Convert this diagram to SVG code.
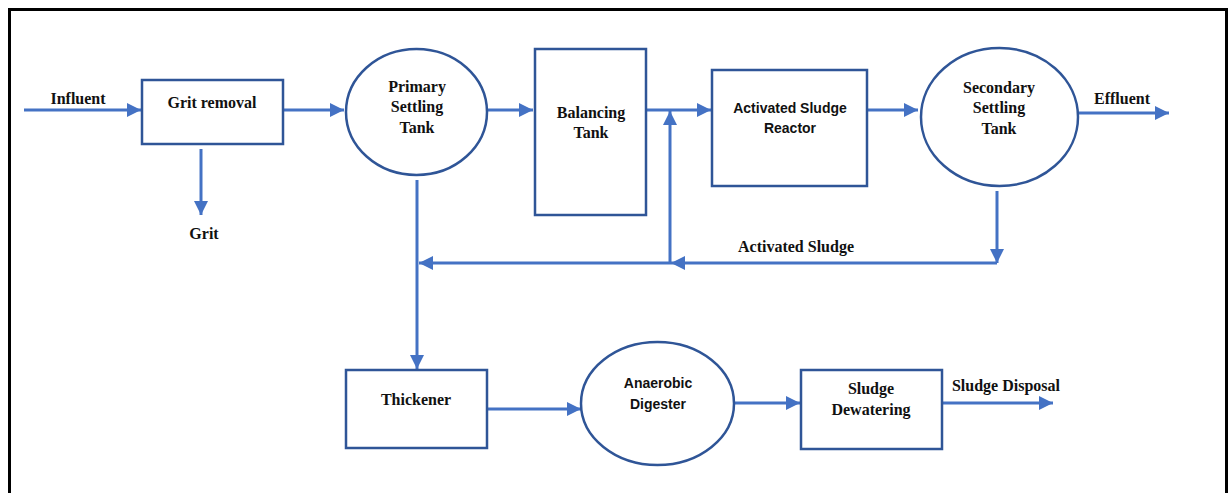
<svg xmlns="http://www.w3.org/2000/svg" width="1231" height="493" viewBox="0 0 1231 493">
<style>
.box{fill:#fff;stroke:#2F5597;stroke-width:2.5}
.ln{fill:none;stroke:#4472C4;stroke-width:3}
.t{font-family:"Liberation Serif","Times New Roman",serif;font-weight:bold;font-size:16px;fill:#111;text-anchor:middle}
.s{font-family:"Liberation Sans",Arial,sans-serif;font-weight:bold;font-size:14px;fill:#111;text-anchor:middle}
</style>
<defs>
<marker id="ah" markerUnits="userSpaceOnUse" markerWidth="14" markerHeight="14" viewBox="0 0 14 14" refX="14" refY="7" orient="auto">
<path d="M0,0 L14,7 L0,14 Z" fill="#4472C4"/>
</marker>
</defs>
<rect x="0" y="0" width="1231" height="493" fill="#fff"/>
<rect x="9.5" y="9.5" width="1217" height="495" fill="none" stroke="#000" stroke-width="3"/>

<g id="connectors">
<line class="ln" x1="24" y1="110" x2="141" y2="110" marker-end="url(#ah)"/>
<line class="ln" x1="283" y1="110" x2="344" y2="110" marker-end="url(#ah)"/>
<line class="ln" x1="201" y1="149" x2="201" y2="215" marker-end="url(#ah)"/>
<line class="ln" x1="487" y1="110" x2="533" y2="110" marker-end="url(#ah)"/>
<line class="ln" x1="646" y1="110" x2="711" y2="110" marker-end="url(#ah)"/>
<line class="ln" x1="867" y1="110" x2="918" y2="110" marker-end="url(#ah)"/>
<line class="ln" x1="1078" y1="113" x2="1169" y2="113" marker-end="url(#ah)"/>
<line class="ln" x1="997" y1="191" x2="997" y2="263" marker-end="url(#ah)"/>
<line class="ln" x1="997" y1="263" x2="671" y2="263" marker-end="url(#ah)"/>
<line class="ln" x1="671" y1="263" x2="419" y2="263" marker-end="url(#ah)"/>
<line class="ln" x1="670" y1="263" x2="670" y2="111" marker-end="url(#ah)"/>
<line class="ln" x1="417" y1="180" x2="417" y2="369" marker-end="url(#ah)"/>
<line class="ln" x1="487" y1="409" x2="581" y2="409" marker-end="url(#ah)"/>
<line class="ln" x1="734" y1="403" x2="800" y2="403" marker-end="url(#ah)"/>
<line class="ln" x1="942" y1="403" x2="1053" y2="403" marker-end="url(#ah)"/>
</g>

<g id="labels">
<text class="t" x="78" y="104">Influent</text>
<text class="t" x="204" y="239">Grit</text>
<text class="t" x="1122" y="104">Effluent</text>
<text class="t" x="796" y="252">Activated Sludge</text>
<text class="t" x="1006" y="391">Sludge Disposal</text>
</g>

<g id="grit-removal">
<rect class="box" x="142" y="80" width="141" height="64"/>
<text class="t" x="212" y="108">Grit removal</text>
</g>

<g id="primary-settling-tank">
<ellipse class="box" cx="416.5" cy="112" rx="70.5" ry="63"/>
<text class="t" x="417" y="92">Primary</text>
<text class="t" x="417" y="112">Settling</text>
<text class="t" x="417" y="133">Tank</text>
</g>

<g id="balancing-tank">
<rect class="box" x="535" y="49" width="111" height="166"/>
<text class="t" x="591" y="118">Balancing</text>
<text class="t" x="591" y="138">Tank</text>
</g>

<g id="activated-sludge-reactor">
<rect class="box" x="712" y="70" width="155" height="116"/>
<text class="s" x="790" y="113">Activated Sludge</text>
<text class="s" x="790" y="133">Reactor</text>
</g>

<g id="secondary-settling-tank">
<ellipse class="box" cx="999.5" cy="117" rx="78.5" ry="69"/>
<text class="t" x="999" y="93">Secondary</text>
<text class="t" x="999" y="113">Settling</text>
<text class="t" x="999" y="134">Tank</text>
</g>

<g id="thickener">
<rect class="box" x="346" y="370" width="141" height="78"/>
<text class="t" x="416" y="405">Thickener</text>
</g>

<g id="anaerobic-digester">
<ellipse class="box" cx="657.5" cy="403.5" rx="76.5" ry="61.5"/>
<text class="s" x="658" y="388">Anaerobic</text>
<text class="s" x="658" y="409">Digester</text>
</g>

<g id="sludge-dewatering">
<rect class="box" x="801" y="370" width="141" height="79"/>
<text class="t" x="871" y="394">Sludge</text>
<text class="t" x="871" y="415">Dewatering</text>
</g>
</svg>
